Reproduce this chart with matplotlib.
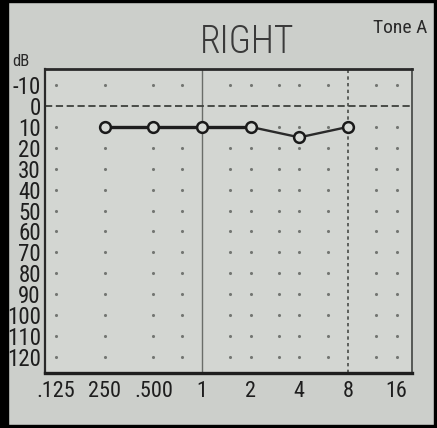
import matplotlib
matplotlib.use("Agg")
import matplotlib.pyplot as plt
from matplotlib.patches import Rectangle
from matplotlib.ticker import NullLocator
from matplotlib import font_manager as fm

# ---- data ----
freqs = [250, 500, 1000, 2000, 4000, 8000]
thresholds = [10, 10, 10, 10, 15, 10]

x_ticks = [125, 250, 500, 1000, 2000, 4000, 8000, 16000]
x_labels = [".125", "250", ".500", "1", "2", "4", "8", "16"]
y_ticks = [-10, 0, 10, 20, 30, 40, 50, 60, 70, 80, 90, 100, 110, 120]
y_labels = ["-10", "0", "10", "20", "30", "40", "50", "60", "70", "80", "90", "100", "110", "120"]
dot_freqs = [125, 250, 500, 750, 1500, 2000, 3000, 4000, 6000, 12000, 16000]
dot_levels = [-10, 10, 20, 30, 40, 50, 60, 70, 80, 90, 100, 110, 120]

names = {f.name for f in fm.fontManager.ttflist}
cands = [n for n in ["Liberation Sans Narrow", "DejaVu Sans Condensed", "Roboto Condensed",
                     "Open Sans Condensed"] if n in names]
FONT = cands + ["DejaVu Sans"]
plt.rcParams["font.family"] = FONT
plt.rcParams["font.stretch"] = "condensed"

W, H = 437, 428
fig = plt.figure(figsize=(W / 100, H / 100), dpi=100, facecolor="#cccfcb")
ax = fig.add_axes([45 / W, 1 - 373 / H, (412 - 45) / W, (373 - 69) / H])
ax.set_facecolor("#d3d6d2")

ax.set_xscale("log", base=2)
ax.set_xlim(125 * 2 ** -0.226, 125 * 2 ** 7.315)
ax.set_ylim(127.7, -17.7)

# dot grid
for f in dot_freqs:
    ax.scatter([f] * len(dot_levels), dot_levels, s=5, color="#737672", zorder=2, linewidths=0)

# reference lines
ax.axvline(1000, color="#6a6d69", lw=1.0, zorder=2)
ax.axvline(8000, color="#4a4d49", lw=1.2, ls=(0, (2, 2)), zorder=2)
ax.axhline(0, color="#3e413d", lw=1.3, ls=(0, (4, 2)), zorder=2)

# audiogram line
ax.plot(freqs[:4], thresholds[:4], color="#1e1e1e", lw=2.4, zorder=3)
ax.plot(freqs[3:], thresholds[3:], color="#2a2a2a", lw=1.7, zorder=3)
ax.scatter(freqs, thresholds, s=60, facecolor="#d8dbd7", edgecolor="#1a1a1a",
           linewidths=1.8, zorder=4)

# ticks
ax.xaxis.set_minor_locator(NullLocator())
ax.set_xticks(x_ticks)
ax.set_xticklabels(x_labels, fontsize=16, color="#1e1e1e")
ax.set_yticks(y_ticks)
ax.set_yticklabels(y_labels, fontsize=16.5, color="#1e1e1e")
ax.tick_params(axis="both", length=0)
ax.tick_params(axis="x", pad=6)
ax.tick_params(axis="y", pad=3)

for side, lw, c in [("top", 2.0, "#2a2a2a"), ("left", 1.6, "#2a2a2a"),
                    ("bottom", 2.4, "#1e1e1e"), ("right", 1.4, "#555855")]:
    ax.spines[side].set_linewidth(lw)
    ax.spines[side].set_color(c)

# texts
fig.text(247 / W, 1 - 42 / H, "RIGHT", ha="center", va="center", fontsize=27,
         color="#3a3a3a", fontweight="light")
fig.text(373 / W, 1 - 28 / H, "Tone A", ha="left", va="center", fontsize=14, color="#2a2a2a")
fig.text(21 / W, 1 - 61 / H, "dB", ha="center", va="center", fontsize=12, color="#2a2a2a")

# photo frame borders
fig.patches.append(Rectangle((0, 0), 8 / W, 1, transform=fig.transFigure, color="black", zorder=10))
fig.patches.append(Rectangle((0, 1 - 2 / H), 1, 2 / H, transform=fig.transFigure, color="black", zorder=10))
fig.patches.append(Rectangle((1 - 3 / W, 0), 3 / W, 1, transform=fig.transFigure, color="black", zorder=10))
fig.patches.append(Rectangle((0, 0), 1, 3 / H, transform=fig.transFigure, color="black", zorder=10))

fig.savefig("out.png", dpi=100, facecolor=fig.get_facecolor())
